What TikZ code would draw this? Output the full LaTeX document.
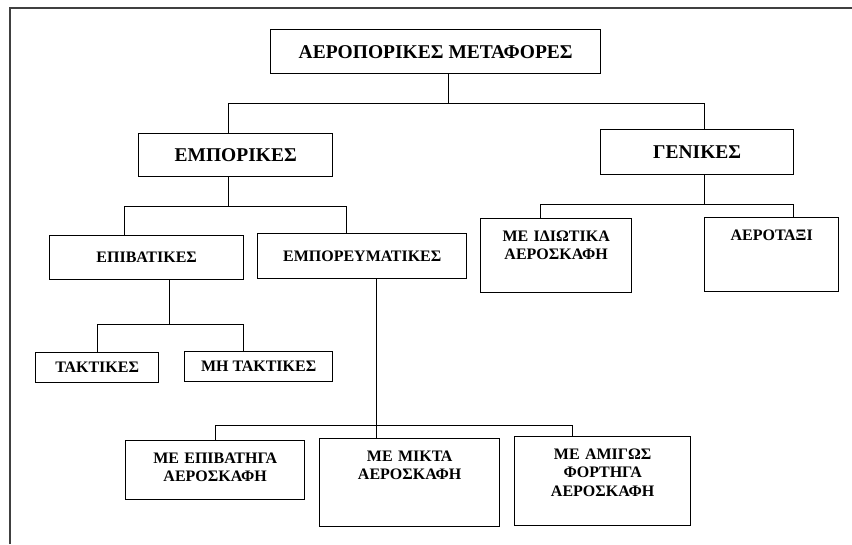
\documentclass[tikz,border=0pt]{standalone}
\usepackage{fontspec}
\setmainfont{Liberation Serif}
\usetikzlibrary{positioning}

\begin{document}
\begin{tikzpicture}[x=1pt, y=-1pt,
			box/.style={draw, line width=1.4pt, rectangle, inner sep=0pt, anchor=north west, align=center, font=\bfseries\fontsize{16}{18.5}\selectfont},
			bigbox/.style={box, font=\bfseries\fontsize{19.5}{23}\selectfont},
			tallbox/.style={box, text height=22.5pt},
			link/.style={line width=1.4pt},
			frame/.style={line width=1.6pt, color=black!75}]
			%Rahmen
			\useasboundingbox (0,0) rectangle (852,544);
			\draw[frame] (10,544) -- (10,8) -- (852,8);
			% obere Ebenen
			\node[bigbox, minimum width=330pt, minimum height=44pt] (air) at (270,29) {ΑΕΡΟΠΟΡΙΚΕΣ ΜΕΤΑΦΟΡΕΣ};
			\node[bigbox, minimum width=194pt, minimum height=43pt] (com) at (138,133) {ΕΜΠΟΡΙΚΕΣ};
			\node[bigbox, minimum width=193pt, minimum height=45pt] (gen) at (600,129) {ΓΕΝΙΚΕΣ};
			\node[box, minimum width=194pt, minimum height=44pt] (pass) at (49,235) {ΕΠΙΒΑΤΙΚΕΣ};
			\node[box, minimum width=209pt, minimum height=45pt] (cargo) at (257,233) {ΕΜΠΟΡΕΥΜΑΤΙΚΕΣ};
			\node[box, minimum width=123pt, minimum height=30pt] (sched) at (35,352) {ΤΑΚΤΙΚΕΣ};
			\node[box, minimum width=148pt, minimum height=30pt] (nonsched) at (184,351) {ΜΗ ΤΑΚΤΙΚΕΣ};
			% Kaesten mit Text oben
			\node[tallbox, text width=151pt, text depth=51.5pt] (priv) at (480,218) {ΜΕ ΙΔΙΩΤΙΚΑ\\ΑΕΡΟΣΚΑΦΗ};
			\node[tallbox, text width=134pt, text depth=51.5pt] (taxi) at (704,217) {ΑΕΡΟΤΑΞΙ};
			\node[tallbox, text width=179pt, text depth=36.5pt] (paxac) at (125,440) {ΜΕ ΕΠΙΒΑΤΗΓΑ\\ΑΕΡΟΣΚΑΦΗ};
			\node[tallbox, text width=180pt, text depth=65.5pt] (mixed) at (319,438) {ΜΕ ΜΙΚΤΑ\\ΑΕΡΟΣΚΑΦΗ};
			\node[tallbox, text width=176pt, text depth=66.5pt] (freight) at (514,436) {ΜΕ ΑΜΙΓΩΣ\\ΦΟΡΤΗΓΑ\\ΑΕΡΟΣΚΑΦΗ};
			% Verbindungen
			\draw[link] ([xshift=13pt]air.south) -- ++(0,29) coordinate (busA);
			\draw[link] (busA) -| ([xshift=-7pt]com.north);
			\draw[link] (busA) -| ([xshift=7.5pt]gen.north);
			\draw[link] ([xshift=-7pt]com.south) -- ++(0,29) coordinate (busB);
			\draw[link] (busB) -| ([xshift=-22pt]pass.north);
			\draw[link] (busB) -| ([xshift=-15.5pt]cargo.north);
			\draw[link] ([xshift=7.5pt]gen.south) -- ++(0,29) coordinate (busC);
			\draw[link] (busC) -| ([xshift=-15.5pt]priv.north);
			\draw[link] (busC) -| ([xshift=22pt]taxi.north);
			\draw[link] ([xshift=23pt]pass.south) -- ++(0,44) coordinate (busD);
			\draw[link] (busD) -| (sched.north);
			\draw[link] (busD) -| ([xshift=-15pt]nonsched.north);
			\draw[link] ([xshift=14.5pt]cargo.south) -- ++(0,146) coordinate (busE) -- ([xshift=-33pt]mixed.north);
			\draw[link] (busE) -| ([xshift=0pt]paxac.north);
			\draw[link] (busE) -| ([xshift=-30pt]freight.north);
		\end{tikzpicture}
\end{document}
